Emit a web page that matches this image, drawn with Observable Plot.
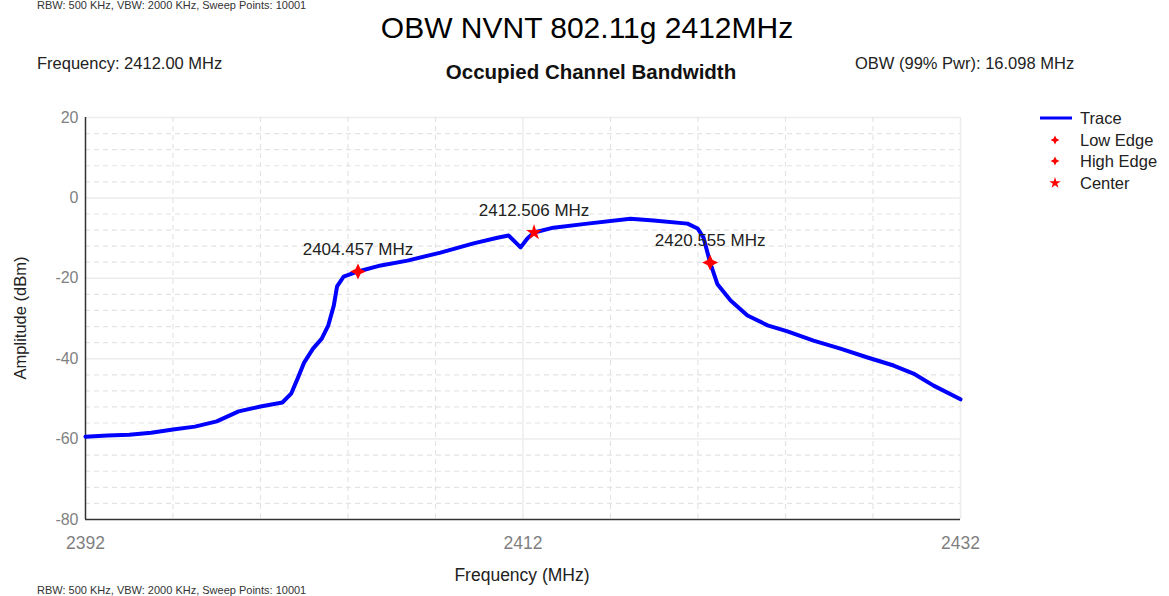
<!DOCTYPE html>
<html>
<head>
<meta charset="utf-8">
<script src="https://cdn.jsdelivr.net/npm/d3@7"></script>
<script src="https://cdn.jsdelivr.net/npm/@observablehq/plot@0.6"></script>
<style>
  html, body { margin: 0; padding: 0; background: #fff; }
  #wrap { position: relative; width: 1169px; height: 596px; overflow: hidden; font-family: "Liberation Sans", Arial, sans-serif; }
  #wrap svg.plot { position: absolute; left: 0; top: 0; }
  .t { position: absolute; white-space: nowrap; line-height: 1; }
</style>
</head>
<body>
<div id="wrap"></div>
<script>
// ---- data ----
const traceFreq = [2392.0, 2393.0, 2394.0, 2395.0, 2396.0, 2397.0, 2398.0, 2399.0, 2400.0, 2401.0,
  2401.4, 2401.7, 2402.0, 2402.4, 2402.8, 2403.1, 2403.35, 2403.5, 2403.8, 2404.457, 2405.5,
  2406.72, 2408.23, 2409.74, 2410.83, 2411.34, 2411.89, 2412.2, 2412.506, 2413.39, 2414.95,
  2416.91, 2417.97, 2419.52, 2419.98, 2420.25, 2420.555, 2420.89, 2421.49, 2422.26, 2423.18,
  2424.09, 2425.28, 2426.51, 2427.75, 2428.94, 2429.85, 2430.77, 2432.0];
const traceAmp = [-59.4, -59.1, -58.9, -58.4, -57.6, -56.9, -55.6, -53.1, -51.9, -50.9,
  -48.7, -44.9, -40.9, -37.5, -35.0, -31.7, -26.8, -22.0, -19.6, -18.3, -16.8,
  -15.6, -13.6, -11.3, -9.9, -9.35, -12.3, -10.1, -8.6, -7.4, -6.4,
  -5.2, -5.6, -6.4, -7.6, -9.85, -16.1, -21.5, -25.5, -29.25, -31.7,
  -33.2, -35.5, -37.5, -39.7, -41.7, -43.7, -46.7, -50.1];

const markerNames = ["Low Edge", "Center", "High Edge"];
const markerFreq = [2404.457, 2412.506, 2420.555];
const markerAmp = [-18.3, -8.6, -16.1];
const markerLabels = ["2404.457 MHz", "2412.506 MHz", "2420.555 MHz"];

const xTicks = [2392, 2412, 2432];
const yTicks = [-80, -60, -40, -20, 0, 20];
const xGrid = [2396, 2400, 2404, 2408, 2412, 2416, 2420, 2424, 2428, 2432];
const yGrid = [-76, -72, -68, -64, -60, -56, -52, -48, -44, -40, -36, -32, -28, -24, -20, -16, -12, -8, -4, 0, 4, 8, 12, 16, 20];

const titleText = "OBW NVNT 802.11g 2412MHz";
const chartTitle = "Occupied Channel Bandwidth";
const freqText = "Frequency: 2412.00 MHz";
const obwText = "OBW (99% Pwr): 16.098 MHz";
const sweepText = "RBW: 500 KHz,  VBW: 2000 KHz,  Sweep Points: 10001";
const legendItems = ["Trace", "Low Edge", "High Edge", "Center"];

// ---- build ----
const trace = traceFreq.map((f, i) => ({f, a: traceAmp[i]}));
const markers = markerFreq.map((f, i) => ({f, a: markerAmp[i], name: markerNames[i], label: markerLabels[i]}));

// 4-point star symbol
const star4 = {
  draw(ctx, size) {
    const r = Math.sqrt(size) * 0.75, q = r * 0.32;
    ctx.moveTo(0, -r);
    ctx.lineTo(q, -q); ctx.lineTo(r, 0); ctx.lineTo(q, q);
    ctx.lineTo(0, r); ctx.lineTo(-q, q); ctx.lineTo(-r, 0); ctx.lineTo(-q, -q);
    ctx.closePath();
  }
};

const majorY = yGrid.filter(v => v % 20 === 0);
const minorY = yGrid.filter(v => v % 20 !== 0);
const majorX = xGrid.filter(v => (v - 2392) % 20 === 0);
const minorX = xGrid.filter(v => (v - 2392) % 20 !== 0);

const chart = Plot.plot({
  width: 1169,
  height: 596,
  marginLeft: 85,
  marginRight: 209,
  marginTop: 117,
  marginBottom: 77,
  style: {fontFamily: "'Liberation Sans', Arial, sans-serif", fontSize: "16px", background: "transparent"},
  x: {domain: [2392, 2432]},
  y: {domain: [-80, 20]},
  marks: [
    Plot.ruleY(minorY, {stroke: "#e4e4e4", strokeWidth: 1.2, strokeDasharray: "5,4"}),
    Plot.ruleY(majorY, {stroke: "#ececec", strokeWidth: 1.5}),
    Plot.ruleX(minorX, {stroke: "#e4e4e4", strokeWidth: 1.2, strokeDasharray: "5,4"}),
    Plot.ruleX(majorX, {stroke: "#ececec", strokeWidth: 1.5}),
    Plot.axisY({ticks: yTicks, tickSize: 0, tickPadding: 7, color: "#7f7f7f", label: null, fontSize: 16, tickFormat: d => String(d)}),
    Plot.axisX({ticks: xTicks, tickSize: 0, tickPadding: 17, color: "#7f7f7f", label: null, fontSize: 17.5, tickFormat: d => String(d)}),
    Plot.ruleX([2392], {stroke: "#333", strokeWidth: 1.5}),
    Plot.ruleY([-80], {stroke: "#333", strokeWidth: 1.5}),
    Plot.line(trace, {x: "f", y: "a", stroke: "#0000ff", strokeWidth: 4, strokeLinejoin: "round"}),
    Plot.dot(markers.filter(d => d.name !== "Center"), {x: "f", y: "a", symbol: star4, r: 6, fill: "#ff0000", stroke: "none"}),
    Plot.dot(markers.filter(d => d.name === "Center"), {x: "f", y: "a", symbol: "star", r: 5, fill: "#ff0000", stroke: "none"}),
    Plot.text(markers, {x: "f", y: "a", text: "label", dy: -22, fill: "#222", fontSize: 17})
  ]
});
chart.classList.add("plot");
const wrap = document.getElementById("wrap");
wrap.appendChild(chart);

function addText(txt, css) {
  const d = document.createElement("div");
  d.className = "t";
  d.textContent = txt;
  Object.assign(d.style, css);
  wrap.appendChild(d);
  return d;
}
addText(sweepText, {left: "37px", top: "0px", fontSize: "11px", color: "#333"});
addText(titleText, {left: "587px", top: "13px", fontSize: "30px", color: "#000", transform: "translateX(-50%)"});
addText(freqText, {left: "37px", top: "55px", fontSize: "16.5px", color: "#222"});
addText(chartTitle, {left: "591px", top: "62px", fontSize: "20.5px", fontWeight: "bold", color: "#111", transform: "translateX(-50%)"});
addText(obwText, {left: "855px", top: "55px", fontSize: "16.5px", color: "#222"});
addText("Frequency (MHz)", {left: "522px", top: "567px", fontSize: "17.5px", color: "#222", transform: "translateX(-50%)"});
addText("Amplitude (dBm)", {left: "20px", top: "318px", fontSize: "16.5px", color: "#222", transform: "translate(-50%, -50%) rotate(-90deg)"});
addText(sweepText, {left: "37px", top: "585px", fontSize: "11px", color: "#333"});

// legend
const ns = "http://www.w3.org/2000/svg";
const leg = document.createElementNS(ns, "svg");
leg.setAttribute("width", 40); leg.setAttribute("height", 90);
leg.style.position = "absolute"; leg.style.left = "1035px"; leg.style.top = "105px";
const ln = document.createElementNS(ns, "line");
ln.setAttribute("x1", 5); ln.setAttribute("x2", 37); ln.setAttribute("y1", 13); ln.setAttribute("y2", 13);
ln.setAttribute("stroke", "#0000ff"); ln.setAttribute("stroke-width", 3);
leg.appendChild(ln);
const sym4 = d3.symbol(star4, 36)();
const sym5 = d3.symbol(d3.symbolStar, 40)();
[[35, sym4], [56, sym4], [78, sym5]].forEach(([y, p]) => {
  const path = document.createElementNS(ns, "path");
  path.setAttribute("d", p);
  path.setAttribute("transform", `translate(20,${y})`);
  path.setAttribute("fill", "#ff0000");
  leg.appendChild(path);
});
wrap.appendChild(leg);
const legY = [118, 140, 161, 183];
legendItems.forEach((name, i) => addText(name, {left: "1080px", top: (legY[i] - 8) + "px", fontSize: "16.5px", color: "#222"}));
</script>
</body>
</html>
